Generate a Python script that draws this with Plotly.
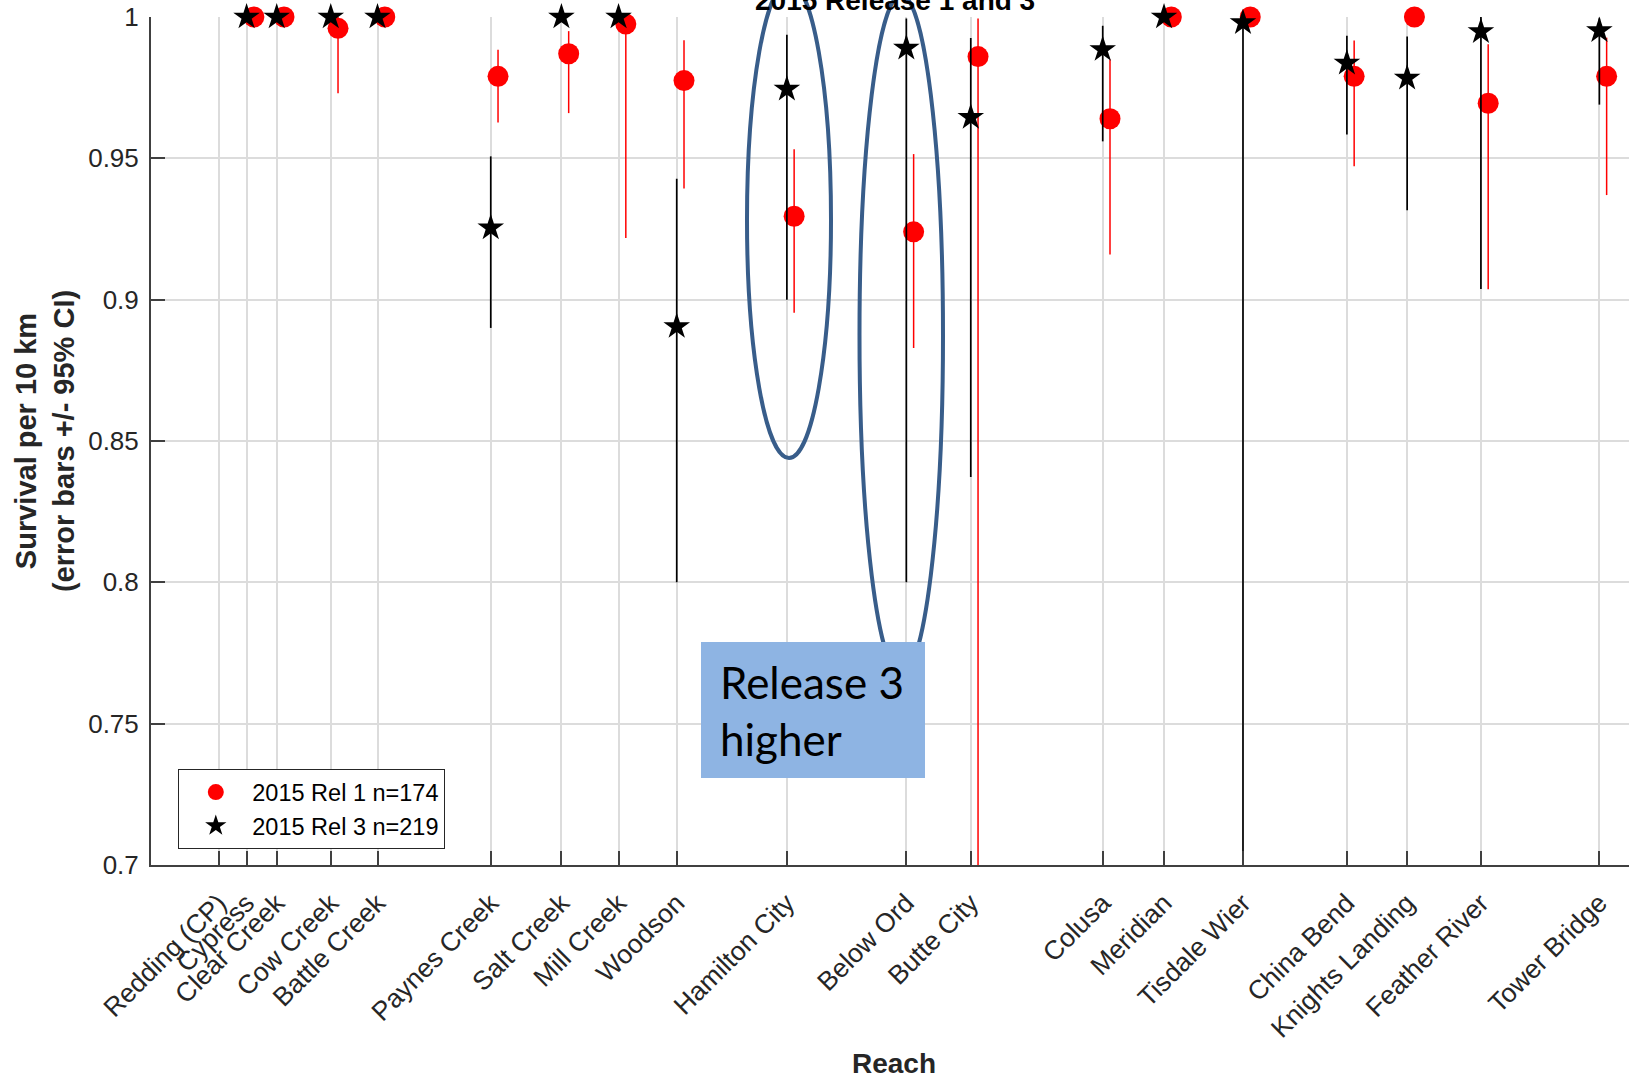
import plotly.graph_objects as go

# ---------------- data ----------------
reaches = ["Redding (CP)", "Cypress", "Clear Creek", "Cow Creek", "Battle Creek",
           "Paynes Creek", "Salt Creek", "Mill Creek", "Woodson", "Hamilton City",
           "Below Ord", "Butte City", "Colusa", "Meridian", "Tisdale Wier",
           "China Bend", "Knights Landing", "Feather River", "Tower Bridge"]
# relative downstream distance of each reach (axis units)
reach_pos = [65, 92, 121, 173, 218, 327, 395, 450, 506, 612,
             727, 789, 916, 975, 1051, 1151, 1209, 1280, 1394]

rel1_est = [None, 1.0, 1.0, 0.996, 1.0, 0.979, 0.987, 0.9975, 0.9775, 0.9295,
            0.924, 0.986, 0.964, 1.0, 1.0, 0.979, 1.0, 0.9695, 0.979]
rel1_hi = [None, 1.0, 1.0, 1.0, 1.0, 0.9884, 0.995, 1.0, 0.9918, 0.9532,
           0.9515, 0.9995, 0.985, 1.0, 1.0, 0.9917, 1.0, 0.9904, 0.9927]
rel1_lo = [None, 1.0, 1.0, 0.973, 1.0, 0.9627, 0.966, 0.9218, 0.9393, 0.8954,
           0.8829, 0.70, 0.916, 1.0, 1.0, 0.9472, 1.0, 0.9037, 0.937]

rel3_est = [None, 1.0, 1.0, 1.0, 1.0, 0.9254, 1.0, 1.0, 0.8905, 0.9745,
            0.989, 0.9645, 0.9885, 1.0, 0.998, 0.9837, 0.9784, 0.9948, 0.9952]
rel3_hi = [None, 1.0, 1.0, 1.0, 1.0, 0.9507, 1.0, 1.0, 0.9428, 0.9937,
           0.9995, 0.9926, 0.9969, 1.0, 1.0, 0.9934, 0.9931, 1.0, 0.9995]
rel3_lo = [None, 1.0, 1.0, 1.0, 1.0, 0.89, 1.0, 1.0, 0.80, 0.90,
           0.80, 0.8373, 0.956, 1.0, 0.70, 0.9584, 0.9316, 0.9038, 0.9690]

rel1_name = "2015 Rel 1 n=174"
rel3_name = "2015 Rel 3 n=219"
rel1_offset = 7
rel3_offset = 0

y_ticks = [0.7, 0.75, 0.8, 0.85, 0.9, 0.95, 1.0]
y_ticktext = ["0.7", "0.75", "0.8", "0.85", "0.9", "0.95", "1"]

# ---------------- layout geometry ----------------
W, H = 1629, 1078
ML, MR, MT, MB = 151, 0, 17, 213
PW = W - ML - MR
PH = H - MT - MB
XMAX = PW / 1.039


def px(xp):
    return (xp - ML) / PW


def py(yp):
    return (H - MB - yp) / PH


def err_arrays(est, hi, lo):
    plus = [None if v is None else h - v for v, h in zip(est, hi)]
    minus = [None if v is None else v - l for v, l in zip(est, lo)]
    return plus, minus


FONT = "Liberation Sans, Arial, Helvetica, sans-serif"
BOXFONT = "Lato, Carlito, sans-serif"

fig = go.Figure()

p1, m1 = err_arrays(rel1_est, rel1_hi, rel1_lo)
fig.add_trace(go.Scatter(
    x=[p + rel1_offset for p in reach_pos], y=rel1_est, mode="markers",
    name=rel1_name, cliponaxis=False,
    marker=dict(symbol="circle", size=21, color="#ff0000", line=dict(width=0)),
    error_y=dict(type="data", symmetric=False, array=p1, arrayminus=m1,
                 color="#ff0000", thickness=1.5, width=0),
))

p3, m3 = err_arrays(rel3_est, rel3_hi, rel3_lo)
fig.add_trace(go.Scatter(
    x=[p + rel3_offset for p in reach_pos], y=rel3_est, mode="markers",
    name=rel3_name, cliponaxis=False,
    marker=dict(symbol="star", size=20, color="#000000", line=dict(width=0)),
    error_y=dict(type="data", symmetric=False, array=p3, arrayminus=m3,
                 color="#000000", thickness=1.7, width=0),
))

shapes = [
    # highlight ellipses
    dict(type="circle", xref="paper", yref="paper",
         x0=px(747), x1=px(831), y0=py(458), y1=py(-18),
         line=dict(color="#385d8a", width=4), layer="above"),
    dict(type="circle", xref="paper", yref="paper",
         x0=px(859.5), x1=px(943), y0=py(675), y1=py(-5),
         line=dict(color="#385d8a", width=4), layer="above"),
    # callout box
    dict(type="rect", xref="paper", yref="paper",
         x0=px(701), x1=px(925), y0=py(778), y1=py(642),
         fillcolor="#8eb4e3", line=dict(width=0), layer="above"),
]

annotations = [
    dict(text="<b>2015 Release 1 and 3</b>", xref="paper", yref="paper",
         x=px(895), y=py(18), xanchor="center", yanchor="bottom",
         showarrow=False, font=dict(family=FONT, size=28, color="#000000")),
    dict(text="<b>Reach</b>", xref="paper", yref="paper",
         x=px(894), y=py(1063), xanchor="center", yanchor="middle",
         showarrow=False, font=dict(family=FONT, size=28, color="#262626")),
    dict(text="Release 3", xref="paper", yref="paper",
         x=px(718), y=py(682), xanchor="left", yanchor="middle",
         showarrow=False, font=dict(family=BOXFONT, size=44, color="#000000")),
    dict(text="higher", xref="paper", yref="paper",
         x=px(718), y=py(739), xanchor="left", yanchor="middle",
         showarrow=False, font=dict(family=BOXFONT, size=44, color="#000000")),
]

fig.update_layout(
    width=W, height=H,
    margin=dict(l=ML, r=MR, t=MT, b=MB, autoexpand=False),
    paper_bgcolor="white", plot_bgcolor="white",
    font=dict(family=FONT, size=26, color="#262626"),
    showlegend=True,
    legend=dict(x=px(178), y=py(769), xanchor="left", yanchor="top",
                bgcolor="white", bordercolor="#262626", borderwidth=1.3,
                font=dict(family=FONT, size=23.5, color="#000000"),
                itemwidth=63, tracegroupgap=0),
    xaxis=dict(range=[0, XMAX], tickmode="array", tickvals=reach_pos,
               ticktext=reaches, tickangle=-45, ticks="inside", ticklen=14,
               tickcolor="#404040", tickwidth=1.5,
               showline=True, linecolor="#404040", linewidth=2,
               showgrid=True, gridcolor="#dcdcdc", gridwidth=1.5,
               zeroline=False, tickfont=dict(size=26.5, color="#262626"),
               ticklabelstandoff=10),
    yaxis=dict(range=[0.7, 1.0], tickmode="array", tickvals=y_ticks,
               ticktext=y_ticktext, ticks="inside", ticklen=14,
               tickcolor="#404040", tickwidth=1.5,
               showline=True, linecolor="#404040", linewidth=2,
               showgrid=True, gridcolor="#dcdcdc", gridwidth=1.5,
               zeroline=False, tickfont=dict(size=26, color="#262626"),
               ticklabelstandoff=5,
               title=dict(text="<b>Survival per 10 km<br>(error bars +/- 95% CI)</b>",
                          font=dict(size=29, color="#262626"), standoff=5)),
    shapes=shapes, annotations=annotations,
)

fig.write_html("out.html")
